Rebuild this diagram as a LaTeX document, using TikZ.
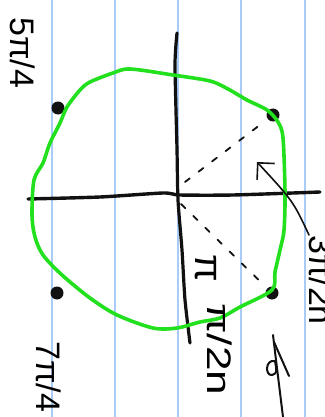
\documentclass[tikz,border=0pt]{standalone}
\usepackage{fontspec}
\setmainfont{Liberation Sans}
\usetikzlibrary{arrows.meta, positioning}
\definecolor{skgreen}{HTML}{22E01E}
\definecolor{skblue}{HTML}{A9CBF8}
\definecolor{skink}{HTML}{111111}
\tikzset{
  punto/.style={circle, fill=skink, inner sep=0pt, minimum size=13pt},
  etichetta/.style={rotate=-90, inner sep=0pt, font=\fontsize{34}{34}\selectfont},
  tratteggio/.style={skink, line width=1.8pt, dash pattern=on 6pt off 11pt},
}
\begin{document}
\begin{tikzpicture}[x=1pt, y=-1pt, line cap=round, line join=round]
  % foglio a righe
  \useasboundingbox[fill=white] (0,0) rectangle (324,417);
  \foreach \x in {52,115,178,241,305}
    \draw[skblue, line width=2.2pt] (\x,0) -- (\x,417);
  % asse orizzontale
  \draw[skink, line width=3.4pt] plot[smooth, tension=0.4] coordinates {(28,199) (100,197) (163,193) (180,195) (233,195) (320,192)};
  % asse verticale
  \draw[skink, line width=3.2pt] plot[smooth, tension=0.4] coordinates {(177,33) (175,65) (177,150) (178,200) (182,250) (185,300) (190,343)};
  % punti
  \node[punto] (p5) at (58,108) {};
  \node[punto] (p3) at (273,115) {};
  \node[punto] (p7) at (57,293) {};
  \node[punto] (p1) at (272,293) {};
  % raggi tratteggiati
  \coordinate (o3) at (185,182);
  \coordinate (o1) at (181,204);
  \draw[tratteggio, shorten >=8pt] (o3) -- (p3);
  \draw[tratteggio, shorten >=12pt] (o1) -- (p1);
  % cerchio verde
  \draw[skgreen, line width=3.6pt] plot[smooth cycle, tension=0.5] coordinates {
    (130,69) (173,75) (210,81) (228,89) (247,100) (267,110) (278,122) (283,138)
    (285,193) (284,230) (280,250) (275,272) (272,290) (240,307) (220,318) (200,322)
    (177,328) (153,328) (117,315) (90,298) (62,275) (43,255) (35,237) (32,215)
    (34,180) (43,163) (50,143) (60,123) (67,107) (80,90) (90,82) (113,73)};
  % etichette
  \node[etichetta, anchor=base west] (l5) at (10,17) {5π/4};
  \node[etichetta, anchor=base west] (l7) at (36,341) {7π/4};
  \node[etichetta, anchor=base west, xscale=1.3] (l1) at (207,303) {π/2n};
  \node[etichetta, anchor=base west] (l3) at (309,235) {3π/2n};
  \node[etichetta, font=\fontsize{40}{40}\selectfont] (pi) at (206,268) {π};
  % freccia
  \coordinate (punta) at (257,162);
  \draw[skink, line width=1.6pt, -{Straight Barb[length=12pt, width=24pt]}] (l3.base west) .. controls (293,201) .. (punta);
  % segno in basso
  \draw[skink, line width=2pt] (273,335) -- (276,360) -- (283,417);
  \draw[skink, line width=2pt] (274,342) -- (289,376);
  \draw[skink, line width=2pt] (275,361) .. controls (265,359) and (265,376) .. (272,375) .. controls (277,373) .. (275,361);
\end{tikzpicture}
\end{document}
